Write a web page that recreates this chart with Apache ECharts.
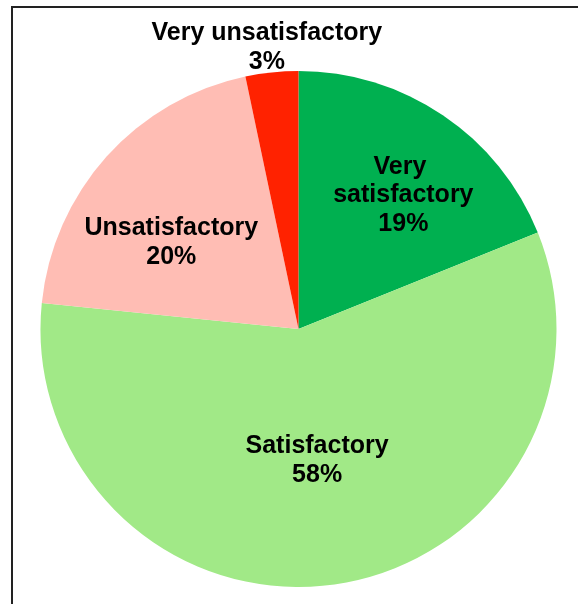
<!DOCTYPE html>
<html>
<head>
<meta charset="utf-8">
<script src="https://cdn.jsdelivr.net/npm/echarts@6/dist/echarts.min.js"></script>
<style>
html,body{margin:0;padding:0;background:#fff;}
#chart{width:578px;height:604px;}
</style>
</head>
<body>
<div id="chart"></div>
<script>
const categories = ['Very satisfactory', 'Satisfactory', 'Unsatisfactory', 'Very unsatisfactory'];
const values = [18.9, 57.7, 20.1, 3.3];
const colors = ['#00B050', '#A1E987', '#FFBDB4', '#FF2200'];
const labelOffsets = [[31, -24], [0, 1], [-29, 2], [-18, -150]];
const labelWidths = [170, null, null, null];

const chart = echarts.init(document.getElementById('chart'), null, {renderer: 'canvas'});
const data = categories.map((name, i) => {
  const lab = {offset: labelOffsets[i]};
  if (labelWidths[i]) { lab.width = labelWidths[i]; lab.overflow = 'break'; }
  return {name: name, value: values[i], itemStyle: {color: colors[i]}, label: lab};
});
chart.setOption({
  animation: false,
  graphic: [{
    type: 'rect',
    shape: {x: 12, y: 7, width: 700, height: 700},
    style: {fill: 'none', stroke: '#222', lineWidth: 2},
    silent: true,
    z: 100
  }],
  series: [{
    type: 'pie',
    center: [298.5, 329],
    radius: [0, 258],
    startAngle: 90,
    clockwise: true,
    percentPrecision: 0,
    avoidLabelOverlap: false,
    emphasis: {disabled: true},
    itemStyle: {borderWidth: 0},
    label: {
      show: true,
      position: 'inside',
      formatter: '{b}\n{d}%',
      color: '#000',
      fontFamily: 'Liberation Sans, Arial, sans-serif',
      fontWeight: 'bold',
      fontSize: 25,
      lineHeight: 28.5,
      align: 'center'
    },
    labelLine: {show: false},
    data: data
  }]
});
</script>
</body>
</html>
